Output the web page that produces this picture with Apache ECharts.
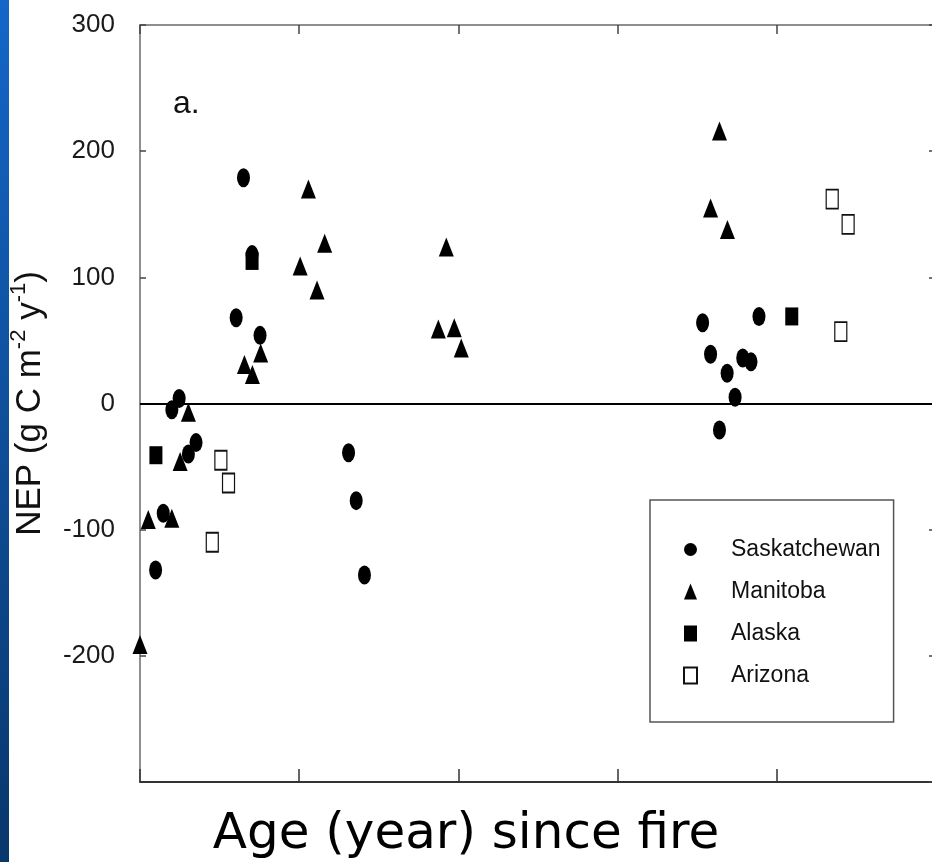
<!DOCTYPE html>
<html><head><meta charset="utf-8">
<script src="https://cdn.jsdelivr.net/npm/echarts@6/dist/echarts.min.js"></script>
<style>html,body{margin:0;padding:0;background:#fff}#c{width:932px;height:862px}</style>
</head><body><div id="c"></div>
<script>
// Age since fire (years, axis 0..250, no tick labels) vs NEP (g C m-2 y-1)
const seriesNames = ['Saskatchewan', 'Manitoba', 'Alaska', 'Arizona'];
const yTicks = [-300, -200, -100, 0, 100, 200, 300];
const saskatchewan = [[32.5,179],[35.2,118],[30.2,68],[37.7,54],[12.3,4],[10,-5],[15.2,-40],[17.6,-31],[7.3,-87],[4.9,-132],[65.5,-39],[67.9,-77],[70.5,-136],[176.7,64],[179.2,39],[184.4,24],[186.9,5],[182,-21],[189.3,36],[191.9,33],[194.4,69]];
const manitoba = [[52.9,170],[58,127],[50.3,109],[55.6,90],[37.9,40],[32.8,31],[35.3,23],[15.2,-7],[12.6,-46],[2.6,-92],[10,-91],[0,-191],[96.2,124],[93.7,59],[98.7,60],[100.9,44],[182,216],[179.2,155],[184.5,138]];
const alaska = [[35.2,113],[5,-41],[204.7,69]];
const arizona = [[25.4,-45],[27.8,-63],[22.7,-110],[217.4,162],[222.4,142],[220.1,57]];

const chart = echarts.init(document.getElementById('c'), null, {renderer: 'canvas'});
const sans = '"Liberation Sans", Arial, sans-serif';
const gray = '#6a6a6a';
chart.setOption({
  backgroundColor: '#ffffff',
  animation: false,
  title: {
    text: 'Age (year) since fire',
    left: 'center', top: 805,
    textStyle: {fontFamily: '"DejaVu Sans", Verdana, sans-serif', fontSize: 50, fontWeight: 'normal', color: '#000'}
  },
  graphic: [
    {type: 'rect', left: 0, top: 0, shape: {width: 9, height: 862}, z: 100,
     style: {fill: new echarts.graphic.LinearGradient(0, 0, 0, 1, [{offset: 0, color: '#1466c8'}, {offset: 1, color: '#08376b'}])}},
    {type: 'text', left: 173, top: 88, z: 100,
     style: {text: 'a.', font: '32px ' + sans, fill: '#111'}}
  ],
  grid: {left: 140, width: 796, top: 25, height: 757, outerBoundsMode: 'none', containLabel: false},
  legend: {
    orient: 'vertical', left: 650, top: 500,
    padding: [36, 13, 33, 33],
    itemGap: 15, itemWidth: 13, itemHeight: 16,
    borderColor: '#555', borderWidth: 1.5,
    textStyle: {fontFamily: sans, fontSize: 23, lineHeight: 27, color: '#111', padding: [0, 0, 0, 29]},
    data: [
      {name: 'Saskatchewan', icon: 'circle'},
      {name: 'Manitoba', icon: 'triangle'},
      {name: 'Alaska', icon: 'rect'},
      {name: 'Arizona', icon: 'rect'}
    ]
  },
  xAxis: [
    {type: 'value', min: 0, max: 250, interval: 50, position: 'bottom',
     axisLine: {show: true, onZero: false, lineStyle: {color: '#333', width: 2}},
     axisTick: {show: true, inside: true, length: 13, lineStyle: {color: '#333', width: 1.5}},
     axisLabel: {show: false}, splitLine: {show: false}},
    {type: 'value', min: 0, max: 250, interval: 50, position: 'top',
     axisLine: {show: true, onZero: false, lineStyle: {color: gray, width: 1.5}},
     axisTick: {show: true, inside: true, length: 9, lineStyle: {color: '#444', width: 1.5}},
     axisLabel: {show: false}, splitLine: {show: false}}
  ],
  yAxis: [
    {type: 'value', min: yTicks[0], max: yTicks[yTicks.length - 1], interval: 100, position: 'left',
     name: '{a|NEP (g C m}{s|-2}{a| y}{s|-1}{a|)}', nameLocation: 'middle', nameGap: 92, nameRotate: 90,
     nameTextStyle: {
       rich: {
         a: {fontFamily: sans, fontSize: 35, color: '#111', lineHeight: 40, verticalAlign: 'bottom'},
         s: {fontFamily: sans, fontSize: 22, color: '#111', lineHeight: 40, verticalAlign: 'top'}
       }
     },
     axisLine: {show: true, onZero: false, lineStyle: {color: gray, width: 1.5}},
     axisTick: {show: true, inside: true, length: 6, lineStyle: {color: '#444', width: 1.5}},
     axisLabel: {show: true, margin: 25, showMinLabel: false, fontFamily: sans, fontSize: 26, color: '#1a1a1a'},
     splitLine: {show: false}},
    {type: 'value', min: yTicks[0], max: yTicks[yTicks.length - 1], interval: 100, position: 'right',
     axisLine: {show: true, onZero: false, lineStyle: {color: gray, width: 1.5}},
     axisTick: {show: true, inside: true, length: 7, lineStyle: {color: '#444', width: 1.5}},
     axisLabel: {show: false}, splitLine: {show: false}}
  ],
  series: [
    {name: seriesNames[0], type: 'scatter', data: saskatchewan, symbol: 'circle', symbolSize: [13, 19], clip: false,
     itemStyle: {color: '#000', opacity: 1},
     markLine: {silent: true, symbol: 'none', label: {show: false},
       lineStyle: {color: '#000', width: 2, type: 'solid'}, data: [{yAxis: 0}]}},
    {name: seriesNames[1], type: 'scatter', data: manitoba, symbol: 'triangle', symbolSize: [15, 19], clip: false,
     itemStyle: {color: '#000', opacity: 1}},
    {name: seriesNames[2], type: 'scatter', data: alaska, symbol: 'rect', symbolSize: [13, 18], clip: false,
     itemStyle: {color: '#000', opacity: 1}},
    {name: seriesNames[3], type: 'scatter', data: arizona, symbol: 'rect', symbolSize: [12, 19], clip: false,
     itemStyle: {color: '#fff', borderColor: '#111', borderWidth: 1.5, opacity: 1}}
  ]
});
</script></body></html>
